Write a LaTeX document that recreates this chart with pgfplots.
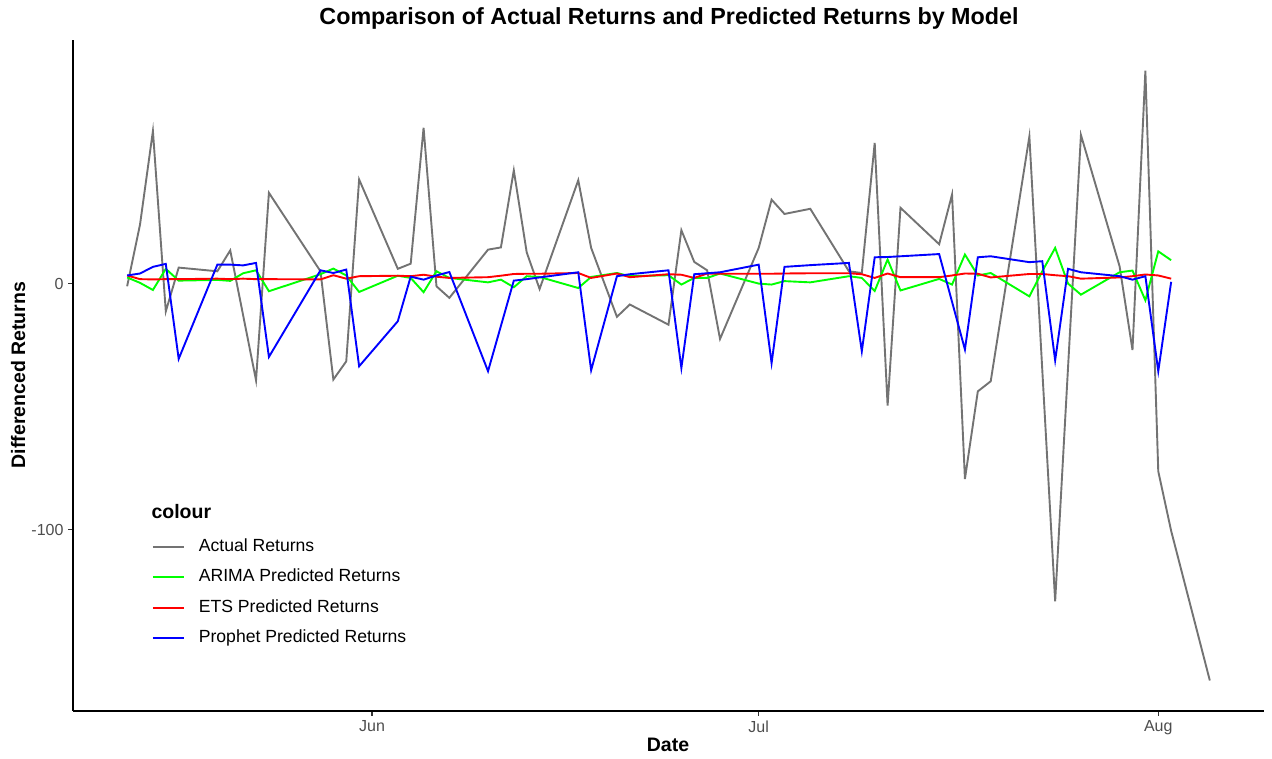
\documentclass[border=0pt]{standalone}
\usepackage{pgfplots}
\pgfplotsset{compat=1.18}
\usepackage{pgfplotstable}
\usepackage{fontspec}
\setmainfont{Liberation Sans}
\definecolor{actgray}{HTML}{737373}
\definecolor{arimagreen}{HTML}{00FF00}
\definecolor{etsred}{HTML}{FF0000}
\definecolor{prophetblue}{HTML}{0000FF}
\definecolor{ticklab}{HTML}{4D4D4D}
\definecolor{tickcol}{HTML}{333333}

% x = days since 1 June 2024 (Jun 1 = 0, Jul 1 = 30, Aug 1 = 61)
\pgfplotstableread{
d v
-19 -1.1
-18 24
-17 62
-16 -11.3
-15 6.5
-12 5
-11 13.5
-10 -12.9
-9 -39.3
-8 36.9
-4 5
-3 -39
-2 -31.6
-1 42.3
2 6
3 8.1
4 63.3
5 -1.1
6 -5.8
9 13.8
10 14.7
11 46
12 12.7
13 -2.2
16 42
17 14.5
19 -13.5
20 -8.5
23 -16.7
24 21.7
25 8.8
26 5.4
27 -22.5
30 14.5
31 34.1
32 28.3
34 30.4
37 5
38 4.3
39 57.2
40 -49.6
41 30.8
44 16
45 36.2
46 -79.4
47 -43.8
48 -39.7
51 59.8
52 -35
53 -129.1
54 -34
55 60.4
58 7
59 -27
60 86.5
61 -76.3
62 -100.5
65 -161.3
}\actual

\pgfplotstableread{
d v
-19 2.5
-18 0.3
-17 -2.6
-16 6
-15 1.2
-12 1.5
-11 1.1
-10 4.2
-9 5.4
-8 -3.1
-4 3.8
-3 6.1
-2 3.3
-1 -3.4
2 3.2
3 2.3
4 -3.5
5 5
6 2.3
9 0.5
10 1.6
11 -1.5
12 3
13 2.7
16 -1.8
17 2.7
19 4.3
20 3
23 3.4
24 -0.4
25 2.3
26 2.3
27 4.1
30 0
31 -0.4
32 1
34 0.5
37 3
38 2.3
39 -3
40 9.8
41 -2.8
44 1.9
45 -0.4
46 11.8
47 3.3
48 4.3
51 -5.2
52 5
53 14.5
54 0
55 -4.5
58 4.6
59 5.3
60 -6.8
61 13.1
62 9.5
}\arima

\pgfplotstableread{
d v
-19 3.3
-18 1.8
-17 1.7
-16 1.8
-15 1.8
-12 2
-11 1.8
-10 2
-9 1.8
-8 1.8
-4 1.7
-3 3.4
-2 2
-1 3
2 3.2
3 3
4 3.6
5 2.8
6 2.3
9 2.6
10 3.2
11 3.9
12 4
13 4
16 4.3
17 2.3
19 4.1
20 2.6
23 3.8
24 3.6
25 2.3
26 4.1
27 4
30 4
31 4
32 4.1
34 4.2
37 4.2
38 3.8
39 2.3
40 4.1
41 2.6
44 2.6
45 3.3
46 4.1
47 4
48 2.5
51 3.9
52 3.9
53 3.4
54 3
55 2
58 2.5
59 3
60 3.7
61 3.3
62 2
}\ets

\pgfplotstableread{
d v
-19 3.3
-18 4.1
-17 6.8
-16 8
-15 -30.6
-12 7.7
-11 7.7
-10 7.4
-9 8.4
-8 -29.8
-4 5.4
-3 4.3
-2 5.7
-1 -33.6
2 -15.3
3 2.8
4 1.6
5 3.3
6 4.7
9 -35.6
10 -17.2
11 1.2
12 1.8
13 2.5
16 4.6
17 -35.2
19 3
20 3.8
23 5.4
24 -34.3
25 3.8
26 4.2
27 4.6
30 7.7
31 -32.3
32 6.8
34 7.5
37 8.4
38 -27.5
39 10.7
40 10.8
41 11.1
44 12
45 -7.4
46 -26.8
47 10.7
48 11.1
51 8.7
52 9.1
53 -31.2
54 6
55 4.6
58 3
59 1.6
60 3
61 -35.6
62 0.7
}\prophet

\begin{document}
\begin{tikzpicture}
\useasboundingbox (0,0) rectangle (1272pt,759pt);
\begin{axis}[
  at={(73pt,48pt)}, anchor=south west,
  scale only axis,
  width=1191pt, height=671pt,
  xmin=-23.2, xmax=69.2,
  ymin=-173.7, ymax=99,
  axis x line*=bottom, axis y line*=left,
  axis line style={-, black, line width=1.2pt},
  xtick={0,30,61}, xticklabels={Jun,Jul,Aug},
  ytick={-100,0}, yticklabels={-100,0},
  tick align=outside,
  major tick length=5pt,
  tick style={tickcol, line width=1.1pt},
  ticklabel style={font=\fontsize{16}{19}\selectfont, text=ticklab},
  xticklabel style={yshift=-1pt},
  yticklabel style={xshift=-1pt},
  legend style={at={(axis description cs:0.0663,0.2575)}, anchor=north west,
    draw=none, fill=none, inner sep=0pt, outer sep=0pt,
    font=\fontsize{17.6}{21}\selectfont,
    row sep=13.5pt, column sep=14pt,
    nodes={inner sep=0pt, text height=13pt, text depth=4pt}},
  legend cell align=left,
  legend image code/.code={\draw[#1] (0pt,0pt) -- (31pt,0pt);},
  clip=false,
]
\addplot[actgray, line width=1.9pt] table[x=d,y=v]{\actual};
\addlegendentry{Actual Returns}
\addplot[arimagreen, line width=1.9pt] table[x=d,y=v]{\arima};
\addlegendentry{ARIMA Predicted Returns}
\addplot[etsred, line width=1.9pt] table[x=d,y=v]{\ets};
\addlegendentry{ETS Predicted Returns}
\addplot[prophetblue, line width=1.9pt] table[x=d,y=v]{\prophet};
\addlegendentry{Prophet Predicted Returns}
\end{axis}
\node[anchor=base] at (669pt,734pt) {\fontsize{23.3}{28}\selectfont\bfseries Comparison of Actual Returns and Predicted Returns by Model};
\node[anchor=base] at (668pt,7pt) {\fontsize{19.5}{23}\selectfont\bfseries Date};
\node[anchor=base, rotate=90] at (25pt,384pt) {\fontsize{19.5}{23}\selectfont\bfseries Differenced Returns};
\node[anchor=base west] at (148pt,240pt) {\fontsize{19.5}{23}\selectfont\bfseries colour};
\end{tikzpicture}
\end{document}
